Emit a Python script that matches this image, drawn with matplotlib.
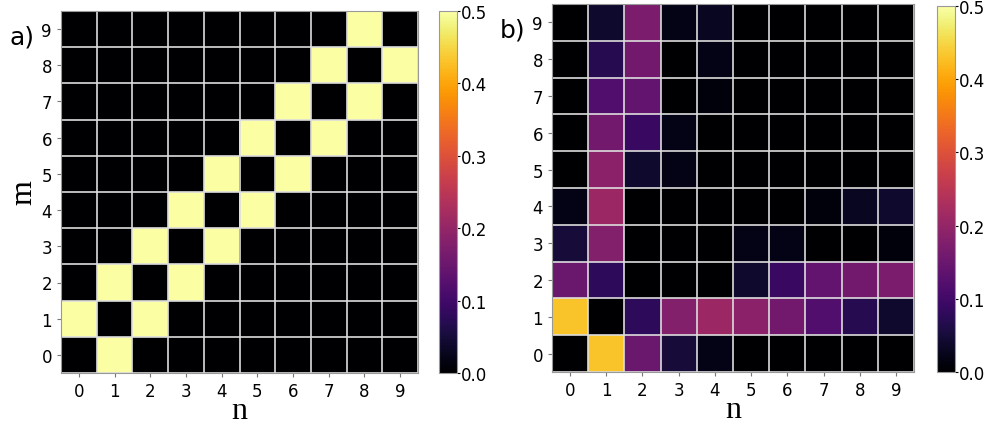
import numpy as np
import matplotlib
matplotlib.use("Agg")
import matplotlib.pyplot as plt

levels = list(range(10))

# panel a: rows are m = 0..9, columns n = 0..9
panel_a = [
    [0.0, 0.5, 0.0, 0.0, 0.0, 0.0, 0.0, 0.0, 0.0, 0.0],
    [0.5, 0.0, 0.5, 0.0, 0.0, 0.0, 0.0, 0.0, 0.0, 0.0],
    [0.0, 0.5, 0.0, 0.5, 0.0, 0.0, 0.0, 0.0, 0.0, 0.0],
    [0.0, 0.0, 0.5, 0.0, 0.5, 0.0, 0.0, 0.0, 0.0, 0.0],
    [0.0, 0.0, 0.0, 0.5, 0.0, 0.5, 0.0, 0.0, 0.0, 0.0],
    [0.0, 0.0, 0.0, 0.0, 0.5, 0.0, 0.5, 0.0, 0.0, 0.0],
    [0.0, 0.0, 0.0, 0.0, 0.0, 0.5, 0.0, 0.5, 0.0, 0.0],
    [0.0, 0.0, 0.0, 0.0, 0.0, 0.0, 0.5, 0.0, 0.5, 0.0],
    [0.0, 0.0, 0.0, 0.0, 0.0, 0.0, 0.0, 0.5, 0.0, 0.5],
    [0.0, 0.0, 0.0, 0.0, 0.0, 0.0, 0.0, 0.0, 0.5, 0.0],
]

# panel b: rows are m = 0..9, columns n = 0..9
panel_b = [
    [0.00, 0.43, 0.15, 0.05, 0.02, 0.00, 0.00, 0.00, 0.00, 0.00],
    [0.43, 0.00, 0.08, 0.18, 0.21, 0.19, 0.16, 0.12, 0.07, 0.04],
    [0.15, 0.08, 0.00, 0.00, 0.00, 0.04, 0.09, 0.14, 0.16, 0.17],
    [0.05, 0.18, 0.00, 0.00, 0.00, 0.02, 0.02, 0.00, 0.00, 0.01],
    [0.02, 0.21, 0.00, 0.00, 0.00, 0.00, 0.00, 0.01, 0.03, 0.04],
    [0.00, 0.19, 0.04, 0.02, 0.00, 0.00, 0.00, 0.00, 0.00, 0.00],
    [0.00, 0.16, 0.09, 0.02, 0.00, 0.00, 0.00, 0.00, 0.00, 0.00],
    [0.00, 0.12, 0.14, 0.00, 0.01, 0.00, 0.00, 0.00, 0.00, 0.00],
    [0.00, 0.07, 0.16, 0.00, 0.02, 0.00, 0.00, 0.00, 0.00, 0.00],
    [0.00, 0.04, 0.17, 0.02, 0.03, 0.00, 0.00, 0.00, 0.00, 0.00],
]

fig = plt.figure(figsize=(9.87, 4.27), dpi=100)
ax_a = fig.add_axes([61 / 987, 53 / 427, 357 / 987, 362 / 427])
cax_a = fig.add_axes([439 / 987, 53 / 427, 18 / 987, 362 / 427])
ax_b = fig.add_axes([552 / 987, 54 / 427, 362 / 987, 368 / 427])
cax_b = fig.add_axes([937 / 987, 54 / 427, 18 / 987, 366 / 427])


def draw(ax, cax, data, label, show_m):
    arr = np.array(data)
    im = ax.imshow(arr, cmap="inferno", vmin=0, vmax=0.5, origin="lower",
                   aspect="auto", interpolation="nearest")
    ax.set_xticks(levels)
    ax.set_yticks(levels)
    ax.set_xticks(np.arange(-0.5, 10, 1), minor=True)
    ax.set_yticks(np.arange(-0.5, 10, 1), minor=True)
    ax.grid(which="minor", color="#dddddd", lw=1.2)
    ax.tick_params(which="minor", length=0)
    ax.tick_params(labelsize=12, length=3, color="#777777")
    for s in ax.spines.values():
        s.set_color("#999999")
    ax.set_xlabel("n", family="Liberation Serif", fontsize=23, labelpad=-3)
    if show_m:
        ax.set_ylabel("m", family="Liberation Serif", fontsize=23, labelpad=2)
    ax.text(-0.145, 0.93, label, transform=ax.transAxes, fontsize=18, ha="left", va="center")
    cb = fig.colorbar(im, cax=cax)
    cb.set_ticks([0.0, 0.1, 0.2, 0.3, 0.4, 0.5])
    cb.ax.tick_params(labelsize=12, length=2, pad=1)
    cb.outline.set_edgecolor("#999999")


draw(ax_a, cax_a, panel_a, "a)", True)
draw(ax_b, cax_b, panel_b, "b)", False)

fig.savefig("out.png", dpi=100)
